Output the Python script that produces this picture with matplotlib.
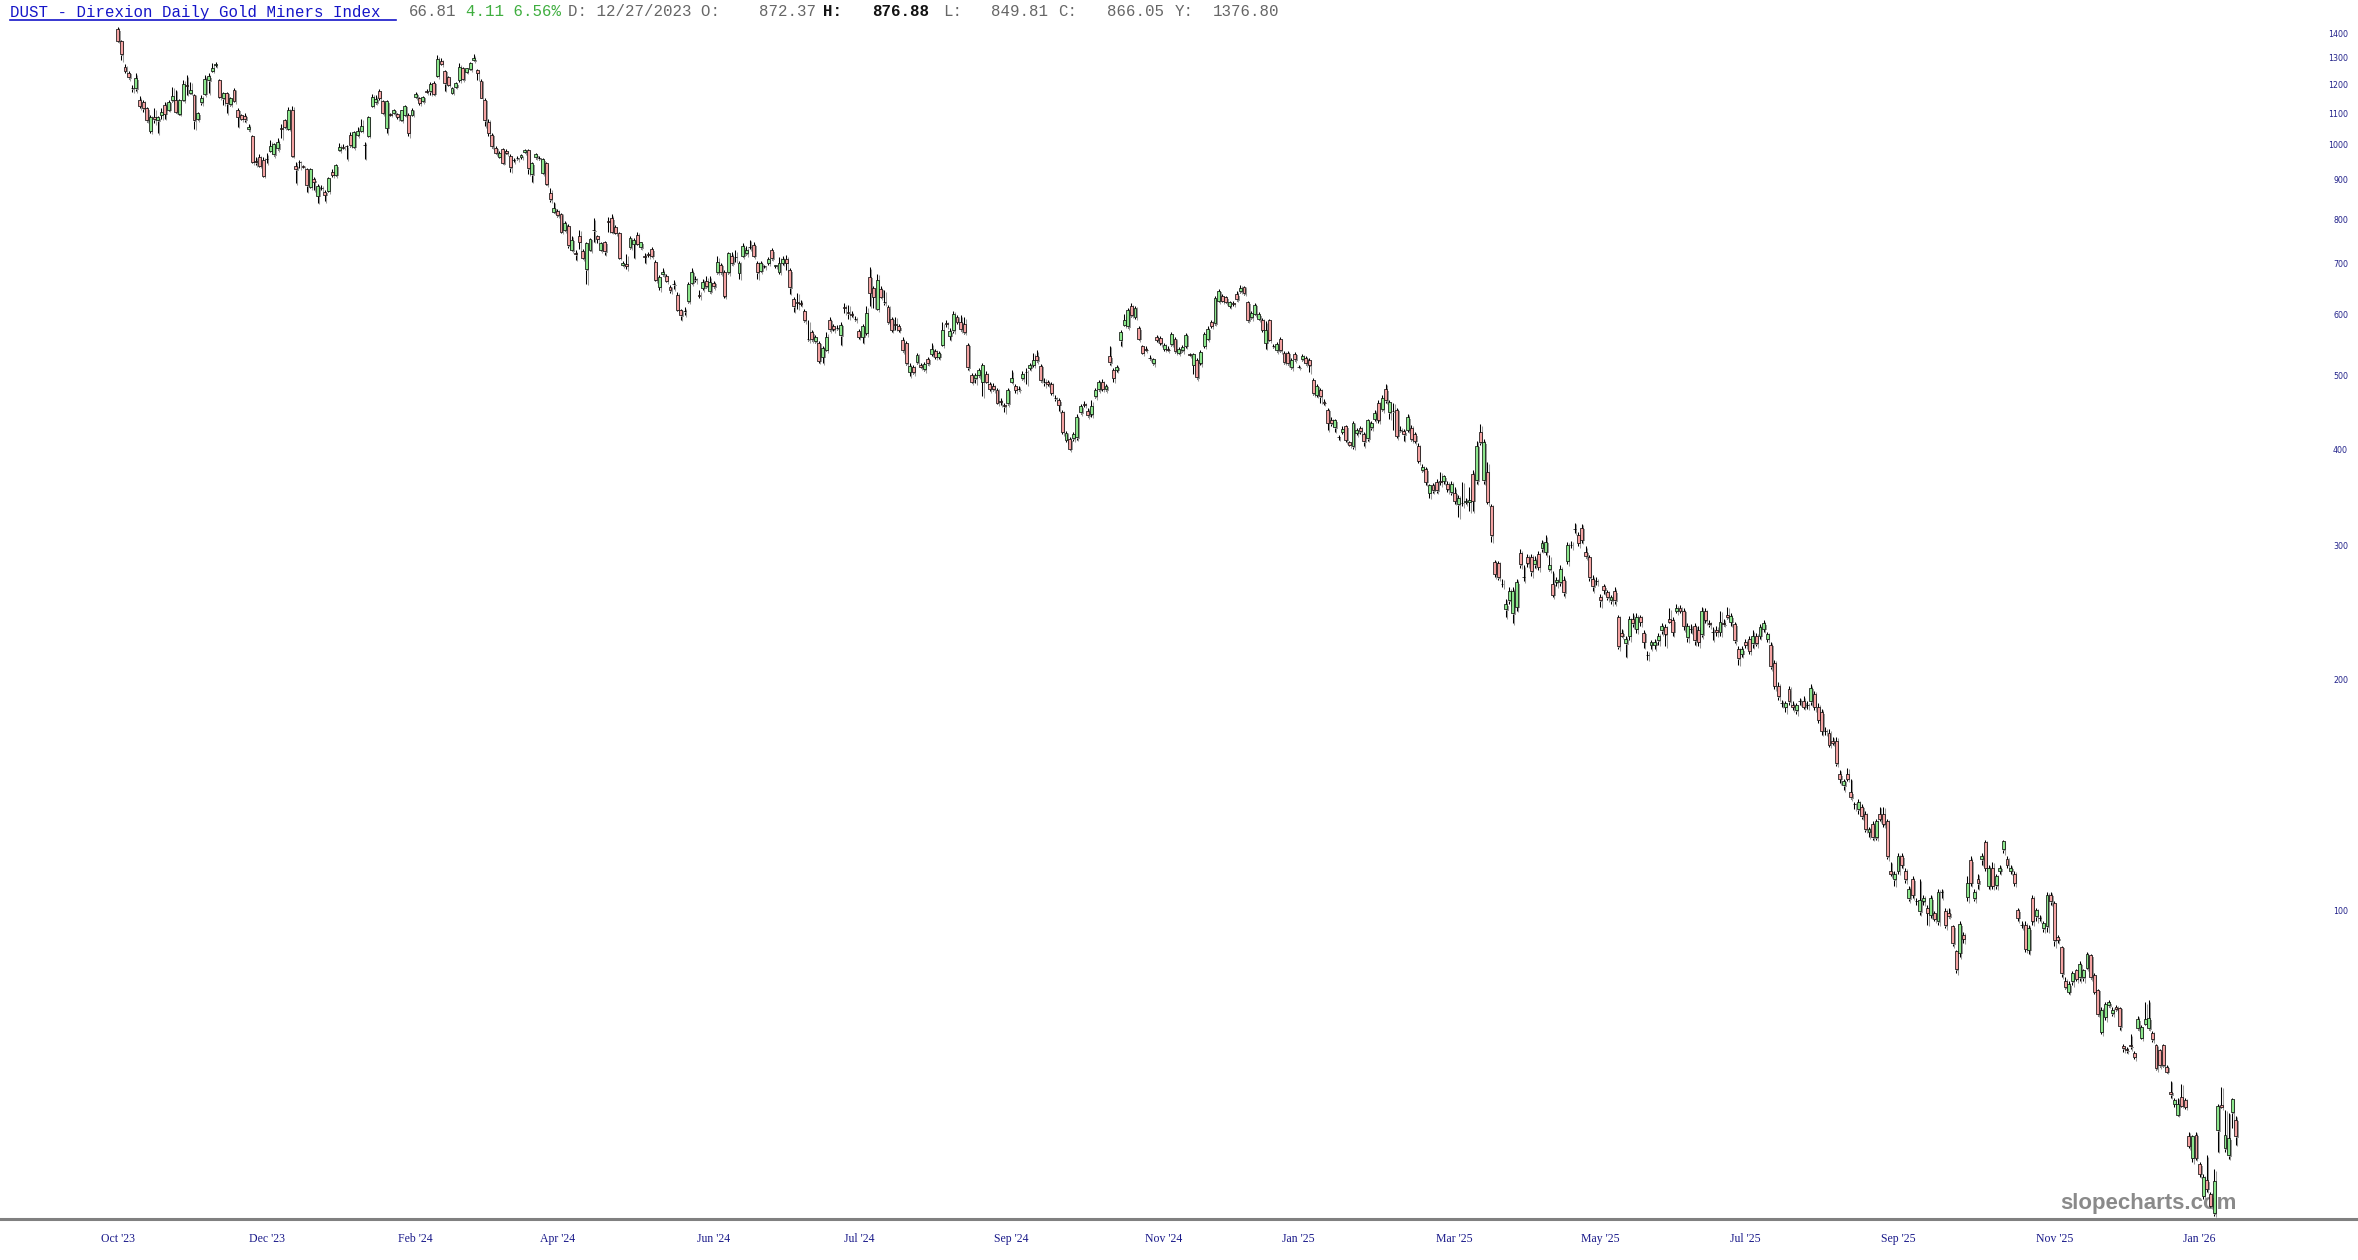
import numpy as np
import matplotlib
matplotlib.use("Agg")
from matplotlib import pyplot as plt
from matplotlib import patheffects as pe

# daily OHLC of DUST (oldest first)
opens = [
    1420, 1373, 1270, 1247, 1192, 1190, 1148, 1140, 1120, 1047,
    1092, 1081, 1098, 1132, 1115, 1148, 1148, 1101, 1148, 1200,
    1172, 1166, 1086, 1140, 1170, 1218, 1255, 1277, 1220, 1154,
    1174, 1133, 1184, 1115, 1098, 1095, 1051, 1030, 955, 967,
    959, 963, 986, 976, 993, 1055, 1081, 1054, 1115, 942,
    953, 941, 932, 885, 905, 861, 881, 871, 874, 926,
    917, 988, 996, 1000, 1034, 998, 1034, 1047, 1003, 1031,
    1128, 1141, 1180, 1144, 1056, 1100, 1104, 1100, 1081, 1099,
    1099, 1099, 1158, 1154, 1144, 1179, 1180, 1210, 1236, 1290,
    1254, 1230, 1174, 1196, 1220, 1263, 1250, 1260, 1294, 1257,
    1217, 1150, 1075, 1035, 995, 968, 990, 985, 971, 960,
    965, 968, 983, 988, 918, 967, 965, 921, 950, 868,
    821, 823, 814, 777, 785, 731, 724, 763, 729, 690,
    731, 777, 763, 731, 748, 797, 805, 784, 770, 699,
    702, 737, 745, 765, 737, 718, 722, 733, 706, 655,
    680, 677, 655, 660, 638, 610, 609, 627, 663, 671,
    638, 653, 666, 646, 663, 684, 700, 684, 684, 718,
    716, 683, 719, 724, 737, 743, 704, 687, 696, 704,
    731, 697, 685, 704, 712, 688, 631, 625, 623, 609,
    560, 571, 556, 553, 530, 542, 593, 582, 579, 566,
    616, 606, 603, 595, 573, 563, 570, 675, 652, 613,
    651, 626, 616, 595, 585, 581, 558, 553, 507, 514,
    522, 518, 511, 527, 535, 539, 530, 550, 587, 565,
    574, 597, 589, 585, 550, 502, 497, 502, 492, 504,
    488, 486, 480, 464, 458, 461, 492, 485, 482, 497,
    506, 513, 518, 532, 516, 492, 492, 489, 469, 465,
    449, 413, 414, 415, 416, 449, 460, 451, 446, 471,
    481, 492, 481, 531, 509, 510, 557, 584, 581, 617,
    598, 578, 547, 543, 529, 520, 563, 561, 543, 543,
    551, 559, 537, 541, 548, 534, 518, 525, 520, 548,
    560, 589, 587, 628, 637, 634, 618, 623, 640, 646,
    654, 625, 597, 604, 595, 592, 553, 592, 548, 541,
    559, 537, 537, 514, 535, 515, 526, 529, 525, 494,
    473, 480, 463, 452, 439, 429, 416, 423, 430, 410,
    405, 422, 428, 420, 415, 429, 440, 461, 453, 481,
    449, 450, 452, 426, 424, 426, 428, 420, 406, 377,
    378, 352, 360, 364, 365, 365, 362, 353, 352, 340,
    342, 343, 343, 373, 366, 423, 366, 375, 338, 286,
    285, 268, 248, 255, 245, 250, 294, 273, 290, 290,
    284, 293, 298, 295, 280, 268, 269, 269, 271, 287,
    301, 316, 310, 317, 295, 290, 272, 270, 257, 266,
    261, 255, 262, 242, 231, 224, 229, 241, 234, 242,
    231, 216, 223, 223, 226, 233, 235, 241, 240, 247,
    249, 247, 228, 234, 236, 233, 230, 247, 238, 232,
    233, 232, 238, 244, 239, 237, 220, 217, 225, 227,
    224, 229, 229, 234, 227, 223, 211, 197, 187, 185,
    195, 186, 183, 188, 188, 186, 188, 192, 185, 182,
    172, 171, 167, 167, 151, 146, 151, 143, 138, 136,
    137, 134, 127, 130, 125, 134, 134, 131, 113, 110,
    113, 118, 113, 104, 110, 103, 100, 103, 101, 99,
    99.3, 97, 106, 100, 99.5, 95.5, 88.7, 88.2, 93, 104.5,
    116.5, 104, 110, 117, 123, 108, 114, 108.2, 113, 120.5,
    117, 113, 112, 100.3, 96, 96, 89, 104, 98.5, 98,
    95, 95.5, 105, 102.5, 92.5, 89.8, 81, 78.5, 81, 83.7,
    82, 82, 84.3, 87.6, 82.5, 78.9, 69.6, 72.8, 75.3, 73.5,
    75, 74.8, 66.6, 66, 66.8, 65.3, 70.3, 68.3, 71.3, 70.3,
    69.3, 66.8, 65.8, 66.8, 62.6, 58.1, 56, 54.2, 57.1, 56.7,
    50.8, 47.6, 51, 46.7, 42.5, 44.5, 42.7, 40.3, 51.7, 55.8,
    49, 48, 54.6, 53.4,
]

highs = [
    1432, 1376, 1278, 1252, 1202, 1245, 1162, 1150, 1125, 1098,
    1120, 1093, 1120, 1143, 1148, 1196, 1184, 1152, 1220, 1238,
    1214, 1170, 1108, 1166, 1238, 1245, 1285, 1286, 1225, 1178,
    1178, 1160, 1190, 1120, 1102, 1103, 1070, 1035, 968, 976,
    968, 978, 1018, 1010, 1023, 1070, 1085, 1124, 1128, 954,
    959, 945, 936, 937, 912, 893, 890, 875, 912, 932,
    947, 1008, 1005, 1003, 1044, 1046, 1059, 1086, 1013, 1096,
    1170, 1165, 1187, 1150, 1148, 1105, 1118, 1104, 1116, 1132,
    1104, 1120, 1178, 1158, 1163, 1186, 1214, 1215, 1315, 1303,
    1258, 1235, 1195, 1212, 1282, 1268, 1266, 1289, 1318, 1260,
    1222, 1155, 1085, 1040, 1000, 985, 995, 990, 976, 965,
    970, 976, 992, 992, 952, 980, 970, 965, 953, 881,
    846, 828, 818, 798, 790, 763, 731, 777, 733, 750,
    758, 804, 766, 750, 752, 808, 814, 788, 773, 707,
    722, 762, 757, 773, 750, 725, 727, 737, 709, 678,
    692, 680, 658, 668, 645, 613, 616, 664, 692, 676,
    648, 671, 676, 676, 667, 718, 704, 688, 726, 726,
    731, 708, 746, 740, 754, 748, 708, 708, 700, 716,
    735, 700, 717, 718, 720, 692, 634, 643, 630, 612,
    592, 575, 566, 556, 548, 571, 597, 585, 583, 588,
    623, 620, 608, 600, 576, 585, 617, 694, 656, 681,
    656, 648, 620, 598, 598, 585, 562, 556, 520, 518,
    537, 521, 522, 530, 552, 543, 540, 588, 592, 578,
    609, 601, 601, 597, 553, 505, 505, 512, 520, 508,
    492, 490, 483, 468, 462, 483, 509, 488, 486, 508,
    512, 521, 537, 541, 519, 498, 495, 492, 472, 468,
    452, 424, 417, 423, 446, 460, 464, 455, 465, 483,
    495, 496, 489, 548, 512, 518, 574, 603, 615, 623,
    618, 582, 550, 547, 533, 529, 567, 564, 553, 547,
    571, 562, 546, 549, 570, 537, 537, 528, 541, 571,
    581, 593, 636, 650, 640, 637, 628, 627, 647, 659,
    657, 628, 608, 624, 606, 596, 590, 595, 551, 554,
    562, 540, 540, 528, 538, 518, 535, 532, 528, 497,
    488, 483, 467, 455, 442, 440, 419, 431, 432, 412,
    437, 428, 431, 423, 440, 437, 452, 465, 473, 489,
    465, 462, 455, 430, 427, 447, 432, 423, 409, 384,
    381, 362, 363, 367, 375, 372, 365, 365, 358, 350,
    364, 347, 358, 377, 412, 433, 414, 386, 341, 288,
    287, 272, 256, 265, 265, 272, 297, 283, 293, 293,
    291, 296, 306, 310, 292, 278, 273, 283, 274, 304,
    305, 322, 313, 321, 300, 292, 275, 273, 260, 268,
    263, 259, 265, 244, 234, 229, 243, 245, 245, 244,
    233, 219, 226, 227, 231, 238, 237, 249, 242, 252,
    251, 249, 238, 237, 238, 236, 250, 249, 240, 235,
    236, 247, 241, 250, 245, 239, 222, 222, 227, 229,
    233, 231, 237, 240, 232, 225, 213, 199, 189, 188,
    197, 188, 187, 190, 191, 188, 198, 194, 187, 184,
    174, 173, 169, 169, 153, 149, 154, 149, 139, 140,
    138, 135, 129, 131, 132, 137, 137, 132, 116, 113,
    119, 119, 114, 108, 111, 104, 110, 105, 102, 105,
    100, 107, 107, 101, 101, 96, 89, 97, 94, 111,
    118, 107, 112, 119, 124, 115, 116, 112, 115, 124,
    118, 115, 113, 101, 97, 97, 96, 105, 101, 99,
    97, 106, 106, 103, 93, 90, 82, 81, 83.5, 84,
    86, 84, 88.5, 88, 83, 79, 75, 76, 76.5, 75,
    75.5, 75, 67, 66.5, 69, 65.6, 73, 71, 76, 76.5,
    69.8, 67, 66, 67, 63, 60, 57, 57, 59.5, 57,
    51.5, 51, 51.5, 47, 45.3, 48, 43, 46, 56, 59,
    55, 54.5, 57, 54,
]

lows = [
    1368, 1295, 1247, 1222, 1178, 1180, 1120, 1109, 1076, 1041,
    1071, 1039, 1086, 1086, 1112, 1140, 1105, 1098, 1145, 1166,
    1170, 1054, 1080, 1132, 1165, 1172, 1250, 1270, 1155, 1132,
    1103, 1128, 1140, 1059, 1080, 1076, 1047, 950, 944, 940,
    911, 950, 982, 970, 988, 1023, 1055, 1050, 968, 894,
    935, 937, 871, 880, 876, 843, 875, 847, 870, 912,
    913, 985, 992, 961, 998, 994, 1030, 1044, 962, 1028,
    1125, 1135, 1150, 1100, 1039, 1095, 1100, 1083, 1078, 1095,
    1030, 1095, 1155, 1132, 1140, 1172, 1166, 1166, 1230, 1276,
    1181, 1198, 1170, 1192, 1214, 1218, 1246, 1256, 1290, 1220,
    1154, 1062, 1030, 995, 975, 965, 948, 975, 925, 952,
    958, 962, 978, 918, 898, 962, 958, 918, 888, 846,
    818, 808, 770, 774, 735, 728, 710, 733, 711, 661,
    728, 750, 746, 728, 721, 773, 770, 767, 712, 696,
    690, 734, 714, 742, 734, 704, 716, 716, 666, 648,
    677, 664, 643, 650, 608, 593, 601, 624, 660, 664,
    632, 648, 652, 643, 652, 681, 680, 633, 680, 700,
    706, 671, 716, 720, 733, 716, 671, 684, 692, 700,
    710, 693, 681, 700, 688, 641, 607, 613, 618, 588,
    556, 556, 552, 521, 520, 539, 573, 573, 575, 550,
    605, 595, 598, 590, 560, 553, 566, 617, 615, 610,
    632, 620, 585, 572, 575, 572, 538, 518, 500, 503,
    519, 512, 508, 518, 532, 527, 527, 547, 580, 558,
    570, 586, 573, 568, 510, 490, 490, 499, 471, 490,
    478, 478, 460, 458, 449, 458, 490, 476, 478, 494,
    488, 510, 515, 522, 492, 485, 486, 473, 464, 450,
    420, 410, 400, 412, 413, 446, 456, 442, 443, 468,
    478, 479, 478, 518, 492, 507, 548, 581, 578, 598,
    595, 557, 534, 539, 525, 517, 555, 549, 540, 539,
    548, 536, 534, 538, 545, 531, 504, 496, 517, 545,
    557, 579, 584, 625, 625, 623, 615, 618, 628, 643,
    639, 589, 594, 601, 592, 572, 543, 556, 545, 538,
    538, 519, 517, 511, 523, 512, 523, 517, 506, 472,
    470, 462, 459, 425, 431, 423, 413, 420, 410, 405,
    402, 419, 420, 405, 412, 426, 437, 435, 450, 462,
    440, 425, 415, 423, 412, 423, 411, 409, 385, 375,
    361, 347, 352, 352, 360, 362, 353, 350, 341, 327,
    338, 340, 333, 333, 362, 407, 362, 340, 304, 273,
    271, 265, 242, 252, 238, 247, 281, 270, 282, 274,
    281, 279, 295, 292, 278, 257, 266, 266, 258, 284,
    298, 312, 300, 303, 289, 270, 262, 267, 250, 260,
    255, 252, 252, 220, 228, 215, 226, 235, 231, 236,
    221, 213, 220, 220, 223, 230, 222, 238, 229, 245,
    245, 233, 225, 231, 223, 222, 228, 238, 235, 226,
    229, 229, 236, 241, 236, 224, 210, 215, 221, 217,
    221, 222, 227, 232, 225, 207, 195, 189, 185, 182,
    186, 183, 181, 186, 184, 184, 186, 183, 176, 170,
    170, 164, 165, 155, 147, 144, 148, 140, 136, 134,
    132, 127, 125, 124, 124, 131, 129, 117, 111, 108,
    112, 114, 109, 103, 104, 102, 99, 102, 96, 98,
    97, 96, 104, 95, 98, 90, 83, 87, 91, 103,
    108, 103, 107, 115, 113, 107, 107, 107, 112, 119,
    114, 112, 108, 97, 95, 88.5, 88, 96, 97, 97,
    94, 94, 102, 90, 91, 82, 79, 78, 80, 81,
    81, 81, 84, 81.5, 78, 73, 69, 72, 75, 73,
    74, 70, 65.5, 65.3, 66, 64, 70, 68, 71, 70,
    67.5, 62, 62.5, 62.5, 61.5, 57, 55.5, 54, 55.5, 55.2,
    49, 47, 47.3, 45, 42, 43, 41, 40, 48.5, 55.3,
    48.5, 47.5, 52, 49.5,
]

closes = [
    1373, 1318, 1254, 1230, 1189, 1226, 1128, 1120, 1081, 1092,
    1083, 1090, 1107, 1102, 1143, 1162, 1109, 1148, 1205, 1198,
    1184, 1081, 1103, 1154, 1222, 1234, 1266, 1279, 1160, 1174,
    1137, 1156, 1146, 1092, 1086, 1083, 1058, 954, 953, 942,
    914, 962, 1000, 1006, 1011, 1054, 1059, 1115, 970, 933,
    952, 940, 888, 933, 898, 887, 880, 864, 908, 917,
    943, 998, 995, 999, 1003, 1042, 1047, 1062, 1002, 1092,
    1160, 1152, 1156, 1103, 1144, 1099, 1115, 1092, 1113, 1128,
    1041, 1115, 1170, 1139, 1160, 1177, 1204, 1170, 1298, 1280,
    1208, 1202, 1190, 1208, 1270, 1222, 1263, 1282, 1303, 1247,
    1157, 1080, 1040, 1000, 979, 980, 950, 978, 938, 959,
    964, 973, 988, 935, 950, 975, 964, 961, 891, 852,
    831, 812, 773, 792, 742, 754, 722, 750, 714, 746,
    756, 776, 756, 746, 729, 796, 772, 770, 714, 704,
    697, 758, 754, 745, 748, 717, 721, 719, 669, 675,
    684, 667, 648, 661, 611, 601, 608, 661, 685, 670,
    637, 665, 656, 665, 656, 705, 684, 636, 724, 703,
    716, 704, 740, 731, 737, 719, 684, 704, 697, 712,
    713, 698, 704, 712, 704, 654, 617, 624, 622, 592,
    559, 559, 563, 524, 545, 562, 576, 576, 578, 584,
    615, 605, 602, 594, 563, 582, 605, 643, 635, 668,
    635, 625, 588, 575, 584, 575, 541, 520, 516, 506,
    533, 514, 519, 520, 543, 530, 537, 575, 586, 573,
    604, 589, 576, 571, 514, 492, 502, 509, 518, 492,
    482, 481, 462, 463, 457, 480, 498, 480, 481, 504,
    506, 518, 525, 525, 494, 491, 489, 476, 468, 459,
    423, 421, 402, 420, 443, 457, 459, 445, 457, 480,
    492, 482, 486, 522, 498, 515, 571, 593, 610, 601,
    615, 560, 537, 542, 528, 526, 558, 552, 550, 542,
    568, 539, 543, 546, 567, 533, 534, 499, 538, 568,
    577, 582, 632, 647, 628, 626, 625, 622, 631, 652,
    642, 592, 605, 620, 603, 575, 574, 558, 547, 551,
    541, 522, 520, 525, 526, 514, 532, 520, 517, 475,
    486, 471, 462, 435, 434, 438, 416, 427, 413, 407,
    434, 425, 424, 411, 438, 434, 448, 438, 468, 465,
    463, 451, 418, 425, 420, 442, 414, 412, 388, 381,
    364, 360, 355, 355, 364, 370, 356, 362, 344, 347,
    342, 344, 345, 344, 406, 410, 410, 343, 310, 276,
    273, 268, 252, 262, 262, 269, 284, 273, 285, 278,
    288, 282, 303, 304, 283, 259, 271, 280, 261, 301,
    301, 316, 303, 306, 291, 273, 266, 270, 255, 263,
    257, 257, 255, 222, 229, 227, 241, 238, 242, 239,
    225, 216, 225, 225, 229, 236, 230, 239, 232, 249,
    247, 236, 236, 234, 226, 225, 247, 240, 237, 232,
    232, 239, 237, 242, 243, 226, 214, 220, 223, 219,
    229, 224, 235, 238, 230, 209, 197, 191, 187, 187,
    188, 185, 186, 188, 185, 186, 196, 185, 178, 172,
    172, 165, 166, 156, 149, 148, 149, 141, 138, 139,
    133, 128, 128, 125, 131, 132, 130, 118, 112, 112,
    118, 115, 110, 107, 105, 103, 103.5, 104, 99.5, 104,
    97.8, 106, 106, 95.8, 98.5, 90.8, 84, 96.2, 92, 109,
    109, 106, 108.7, 118, 114, 114, 108, 111, 114, 123.4,
    115, 114, 109, 98, 96, 89.3, 95, 97, 100.3, 98,
    96.5, 105, 103, 91.6, 91.8, 82.9, 79.5, 80.3, 83, 81.6,
    85.4, 83.7, 87.8, 82, 78.5, 73.3, 74.3, 75.6, 76, 74.2,
    74.4, 70.7, 66.2, 65.8, 66.6, 64.5, 72.2, 70.5, 72.2, 72.4,
    68, 62.3, 62.9, 62.9, 61.7, 57.6, 56.6, 56, 55.7, 55.5,
    49.4, 50.8, 47.6, 45.4, 45, 43.4, 41.2, 44.4, 55.7, 55.5,
    51, 50.5, 56.8, 50.8,
]

# x axis labels sit on bar indices
tick_pos = [0, 41, 82, 121, 164, 204, 246, 288, 325, 368, 408, 448, 490, 533, 573]
tick_labels = ["Oct '23", "Dec '23", "Feb '24", "Apr '24", "Jun '24", "Jul '24",
               "Sep '24", "Nov '24", "Jan '25", "Mar '25", "May '25", "Jul '25",
               "Sep '25", "Nov '25", "Jan '26"]
price_ticks = [100, 200, 300, 400, 500, 600, 700, 800, 900, 1000, 1100, 1200, 1300, 1400]

n = min(len(opens), len(highs), len(lows), len(closes))
o = np.array(opens[:n], dtype=float)
h = np.array(highs[:n], dtype=float)
l = np.array(lows[:n], dtype=float)
c = np.array(closes[:n], dtype=float)
x = np.arange(n)
up = c >= o

fig = plt.figure(figsize=(23.58, 12.6), dpi=100)
ax = fig.add_axes([0, 41 / 1260, 1, 1199 / 1260])
ax.set_yscale('log')
ax.set_xlim(-32.4, 616.6)
ax.set_ylim(39.6, 1461)

shadow = '#8f8f8f'
wicks = ax.vlines(x, l, h, colors='black', linewidth=0.75, zorder=2)
wicks.set_path_effects([pe.SimpleLineShadow(offset=(1.1, -1.1), shadow_color=shadow, alpha=0.9),
                        pe.Normal()])

body_colors = np.where(up, '#8ce68c', '#f4a2a2')
bars = ax.bar(x, np.abs(c - o), bottom=np.minimum(o, c), width=0.8,
              color=body_colors, edgecolor='black', linewidth=0.5, zorder=3)
for b in bars:
    b.set_path_effects([pe.SimplePatchShadow(offset=(1.1, -1.1), shadow_rgbFace=shadow, alpha=0.9),
                        pe.Normal()])

# axis cosmetics
for side in ['top', 'left', 'right']:
    ax.spines[side].set_visible(False)
ax.spines['bottom'].set_color('#808080')
ax.spines['bottom'].set_linewidth(2.2)
ax.tick_params(axis='y', which='both', left=False, labelleft=False)
ax.set_xticks(tick_pos, tick_labels)
ax.tick_params(axis='x', which='both', length=0, pad=10, labelsize=8.5, labelcolor='#1a1a8a')
for lbl in ax.get_xticklabels():
    lbl.set_fontfamily('Liberation Serif')

for v in price_ticks:
    ax.text(2348 / 2358, v, str(v), transform=ax.get_yaxis_transform(), ha='right',
            va='center', fontsize=5.7, color='#22228a', family='DejaVu Sans')

# watermark under the candles
ax.text(2148 / 2358, 1 - 1203 / 1260, 'slopecharts.com', transform=fig.transFigure,
        ha='center', va='center', fontsize=16, fontweight='bold', color='#8a8a8a',
        family='Liberation Sans', zorder=1)

# header line
hy = 1 - 12 / 1260
mono = 'Liberation Mono'
fs = 11.3
parts = [
    (10, 'DUST - Direxion Daily Gold Miners Index', '#1515c8', 'normal'),
    (409, '66.81', '#666666', 'normal'),
    (466, '4.11 6.56%', '#3fae3f', 'normal'),
    (568, 'D: 12/27/2023 O:', '#666666', 'normal'),
    (759, '872.37', '#666666', 'normal'),
    (823, 'H:', '#111111', 'bold'),
    (872, '876.88', '#111111', 'bold'),
    (943, 'L:', '#666666', 'normal'),
    (991, '849.81', '#666666', 'normal'),
    (1058, 'C:', '#666666', 'normal'),
    (1107, '866.05', '#666666', 'normal'),
    (1175, 'Y:', '#666666', 'normal'),
    (1213, '1376.80', '#666666', 'normal'),
]
for px, txt, col, wt in parts:
    fig.text(px / 2358, hy, txt, ha='left', va='center', family=mono, fontsize=fs,
             color=col, fontweight=wt)
fig.add_artist(plt.Line2D([10 / 2358, 396 / 2358], [1 - 20 / 1260, 1 - 20 / 1260],
                          transform=fig.transFigure, color='#1515c8', linewidth=1.2))

fig.savefig('out.png', dpi=100, facecolor='white')
